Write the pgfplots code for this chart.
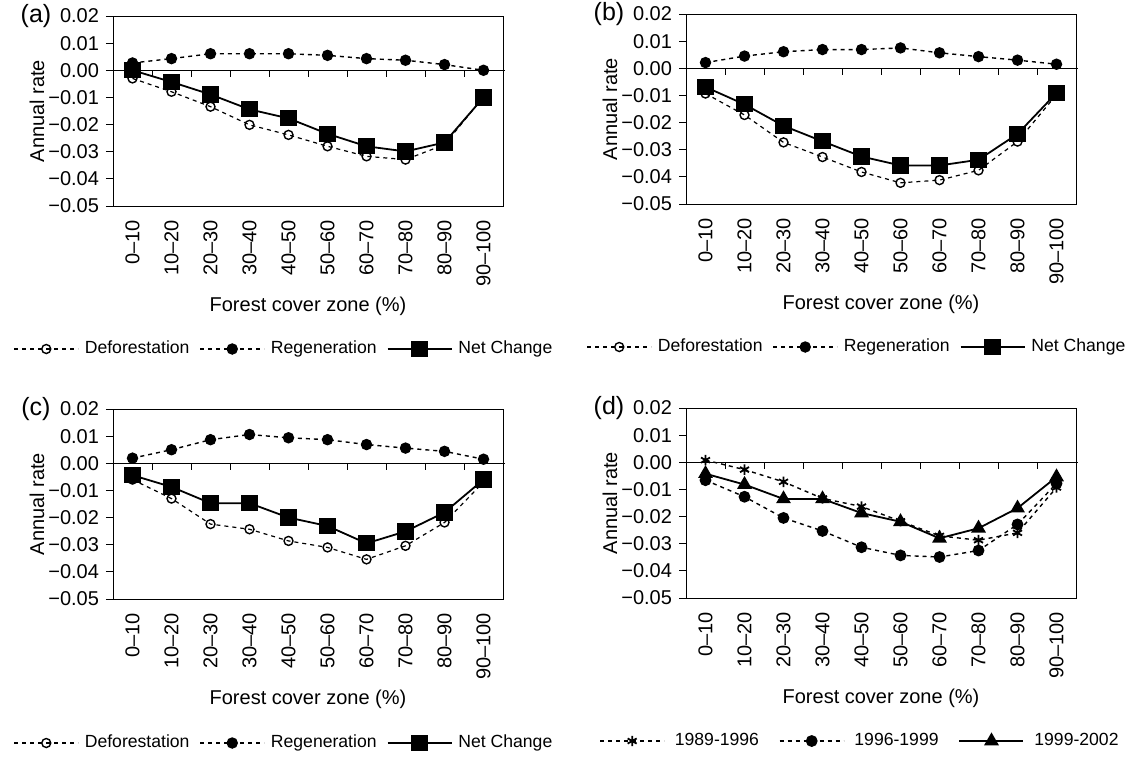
\documentclass[border=0pt]{standalone}
\usepackage{fontspec}
\setmainfont{Liberation Sans}
\usepackage{pgfplots}
\pgfplotsset{compat=1.18}
\newcommand{\tf}{\fontsize{10}{12}\selectfont}
\pgfplotsset{
 panel/.style={
  width=195pt, height=95pt, scale only axis,
  xmin=-0.5, xmax=9.5, ymin=-0.05, ymax=0.02,
  xtick={0,...,9},
  xticklabels={0–10,10–20,20–30,30–40,40–50,50–60,60–70,70–80,80–90,90–100},
  x tick label style={rotate=90, anchor=east, font=\tf},
  major x tick style={draw=none},
  ytick={-0.05,-0.04,-0.03,-0.02,-0.01,0,0.01,0.02},
  yticklabels={−0.05,−0.04,−0.03,−0.02,−0.01,0.00,0.01,0.02},
  y tick label style={font=\tf},
  tick align=outside, major tick length=3.5pt,
  ytick pos=left, xtick pos=bottom,
  scaled y ticks=false,
  axis line style={line width=0.5pt},
  tick style={black, line width=0.5pt},
  xlabel={Forest cover zone (\%)},
  ylabel={Annual rate},
  xlabel style={at={(axis description cs:0.5,0)}, anchor=center, yshift=-50pt, font=\tf},
  ylabel style={at={(axis description cs:-0.195,0.5)}, anchor=center, font=\tf},
  legend style={draw=none, fill=none, font=\fontsize{8.8}{11}\selectfont, legend columns=3,
    /tikz/every even column/.append style={column sep=3pt},
    /tikz/every odd column/.append style={column sep=1pt}},
  legend image code/.code={\draw[mark repeat=2,mark phase=2] plot coordinates {(0pt,0pt) (16pt,0pt) (32pt,0pt)};},
  clip=false,
 },
 defo/.style={black, line width=0.6pt, dash pattern=on 2pt off 2pt, mark=o, mark size=2.25pt, mark options={solid, fill=white, line width=0.7pt}},
 regen/.style={black, line width=0.7pt, dash pattern=on 2pt off 2pt, mark=*, mark size=2.5pt, mark options={solid}},
 net/.style={black, line width=0.9pt, solid, mark=square*, mark size=3.6pt},
 sa/.style={black, line width=0.7pt, dash pattern=on 2pt off 2pt, mark=asterisk, mark size=2.6pt, mark options={solid, line width=0.9pt}},
 sb/.style={black, line width=0.7pt, dash pattern=on 2pt off 2pt, mark=*, mark size=2.6pt, mark options={solid}},
 sc/.style={black, line width=0.9pt, solid, mark=triangle*, mark size=3.4pt},
}
\newcommand{\zeroline}{%
  \draw[line width=0.6pt] (axis cs:-0.5,0) -- (axis cs:9.56,0);
  \pgfplotsinvokeforeach{0.5,1.5,2.5,3.5,4.5,5.5,6.5,7.5,8.5}{\draw[line width=0.5pt] (axis cs:##1,0) -- ([yshift=-3.5pt]axis cs:##1,0);}%
}
\begin{document}
\begin{tikzpicture}
\path[use as bounding box] (0,0) rectangle (573pt,-378pt);
% (a)
\begin{axis}[panel, at={(56.5pt,-8pt)}, anchor=north west,
  legend style={at={(axis description cs:0.5,0)}, anchor=center, xshift=-11.5pt, yshift=-71.5pt}]
\zeroline
\addplot[defo] coordinates {(0,-0.0030) (1,-0.0079) (2,-0.0134) (3,-0.0201) (4,-0.0238) (5,-0.0280) (6,-0.0317) (7,-0.0329) (8,-0.0274) (9,-0.0098)};
\addplot[regen] coordinates {(0,0.0027) (1,0.0043) (2,0.0061) (3,0.0061) (4,0.0061) (5,0.0055) (6,0.0043) (7,0.0037) (8,0.0021) (9,0.0000)};
\addplot[net] coordinates {(0,0.0000) (1,-0.0043) (2,-0.0089) (3,-0.0144) (4,-0.0177) (5,-0.0234) (6,-0.0280) (7,-0.0299) (8,-0.0266) (9,-0.0100)};
\legend{Deforestation,Regeneration,Net Change}
\node[font=\fontsize{12.5}{14}\selectfont] at (axis description cs:0,1) [xshift=-38.5pt] {(a)};
\end{axis}
% (b)
\begin{axis}[panel, at={(343pt,-7pt)}, anchor=north west,
  legend style={at={(axis description cs:0.5,0)}, anchor=center, xshift=-11.5pt, yshift=-71.5pt}]
\zeroline
\addplot[defo] coordinates {(0,-0.0093) (1,-0.0172) (2,-0.0273) (3,-0.0327) (4,-0.0382) (5,-0.0422) (6,-0.0412) (7,-0.0376) (8,-0.0270) (9,-0.0097)};
\addplot[regen] coordinates {(0,0.0021) (1,0.0045) (2,0.0061) (3,0.0069) (4,0.0069) (5,0.0075) (6,0.0057) (7,0.0043) (8,0.0030) (9,0.0015)};
\addplot[net] coordinates {(0,-0.0069) (1,-0.0133) (2,-0.0212) (3,-0.0269) (4,-0.0325) (5,-0.0358) (6,-0.0358) (7,-0.0337) (8,-0.0242) (9,-0.0091)};
\legend{Deforestation,Regeneration,Net Change}
\node[font=\fontsize{12.5}{14}\selectfont] at (axis description cs:0,1) [xshift=-38.5pt] {(b)};
\end{axis}
% (c)
\begin{axis}[panel, at={(56.5pt,-204.5pt)}, anchor=north west,
  legend style={at={(axis description cs:0.5,0)}, anchor=center, xshift=-11.5pt, yshift=-72pt}]
\zeroline
\addplot[defo] coordinates {(0,-0.0060) (1,-0.0130) (2,-0.0224) (3,-0.0243) (4,-0.0286) (5,-0.0310) (6,-0.0354) (7,-0.0304) (8,-0.0218) (9,-0.0069)};
\addplot[regen] coordinates {(0,0.0019) (1,0.0050) (2,0.0087) (3,0.0106) (4,0.0094) (5,0.0087) (6,0.0069) (7,0.0056) (8,0.0044) (9,0.0015)};
\addplot[net] coordinates {(0,-0.0044) (1,-0.0087) (2,-0.0147) (3,-0.0147) (4,-0.0200) (5,-0.0231) (6,-0.0295) (7,-0.0251) (8,-0.0181) (9,-0.0060)};
\legend{Deforestation,Regeneration,Net Change}
\node[font=\fontsize{12.5}{14}\selectfont] at (axis description cs:0,1) [xshift=-38.5pt] {(c)};
\end{axis}
% (d)
\begin{axis}[panel, at={(343pt,-204pt)}, anchor=north west,
  legend style={at={(axis description cs:0.5,0)}, anchor=center, xshift=-10pt, yshift=-71.5pt,
    /tikz/every even column/.append style={column sep=8pt},
    /tikz/every odd column/.append style={column sep=3pt}}]
\zeroline
\addplot[sa] coordinates {(0,0.0008) (1,-0.0027) (2,-0.0072) (3,-0.0133) (4,-0.0163) (5,-0.0217) (6,-0.0271) (7,-0.0287) (8,-0.0260) (9,-0.0093)};
\addplot[sb] coordinates {(0,-0.0066) (1,-0.0127) (2,-0.0205) (3,-0.0253) (4,-0.0313) (5,-0.0343) (6,-0.0349) (7,-0.0325) (8,-0.0229) (9,-0.0078)};
\addplot[sc] coordinates {(0,-0.0042) (1,-0.0082) (2,-0.0135) (3,-0.0135) (4,-0.0187) (5,-0.0219) (6,-0.0280) (7,-0.0243) (8,-0.0169) (9,-0.0054)};
\legend{1989-1996,1996-1999,1999-2002}
\node[font=\fontsize{12.5}{14}\selectfont] at (axis description cs:0,1) [xshift=-38.5pt] {(d)};
\end{axis}
\end{tikzpicture}
\end{document}
